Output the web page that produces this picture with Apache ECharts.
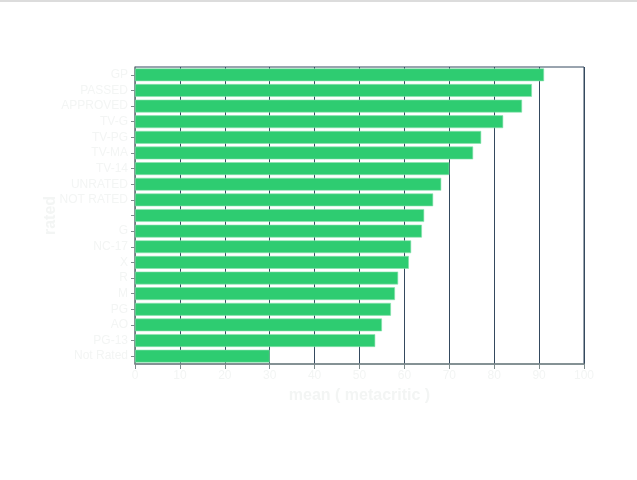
<!DOCTYPE html>
<html>
<head>
<meta charset="utf-8">
<script src="https://cdn.jsdelivr.net/npm/echarts@6/dist/echarts.min.js"></script>
<style>
html,body{margin:0;padding:0;background:#fff;}
body{border-top:2px solid #dcdcdc;}
#chart{width:637px;height:478px;}
</style>
</head>
<body>
<div id="chart"></div>
<script>
// ratings, top to bottom
var rated = ['GP','PASSED','APPROVED','TV-G','TV-PG','TV-MA','TV-14','UNRATED','NOT RATED','',
             'G','NC-17','X','R','M','PG','AO','PG-13','Not Rated'];
// mean metacritic per rating
var meanMetacritic = [91.1,88.4,86.2,82.0,77.1,75.3,70.0,68.2,66.4,64.4,
                      63.9,61.5,61.0,58.6,57.9,57.0,55.0,53.5,30.0];
var xTicks = [0,10,20,30,40,50,60,70,80,90,100];

var txt = '#f3f5f4';
var myChart = echarts.init(document.getElementById('chart'));
var option = {
	animation:false,
	grid:{left:135,right:53,top:65,bottom:116,show:true,borderColor:'#34495e',borderWidth:1,backgroundColor:'transparent'},
	xAxis:{
		type:'value',min:xTicks[0],max:xTicks[xTicks.length-1],interval:10,
		name:'mean ( metacritic )',nameLocation:'middle',nameGap:24,nameMoveOverlap:false,
		nameTextStyle:{color:txt,fontSize:16,fontWeight:'bold',fontFamily:'Liberation Sans'},
		axisLine:{show:true,lineStyle:{color:'#7f8c8d',width:1.5}},
		axisTick:{show:true,length:5,lineStyle:{color:'#7f8c8d'}},
		axisLabel:{color:txt,fontSize:12,fontFamily:'Liberation Sans',margin:6},
		splitLine:{show:true,lineStyle:{color:'#34495e',width:1}}
	},
	yAxis:{
		type:'category',data:rated,inverse:true,
		name:'rated',nameLocation:'middle',nameGap:76,nameMoveOverlap:false,
		nameTextStyle:{color:txt,fontSize:16,fontWeight:'bold',fontFamily:'Liberation Sans'},
		axisLine:{show:true,lineStyle:{color:'#7f8c8d',width:1.5}},
		axisTick:{show:true,alignWithLabel:true,length:4,lineStyle:{color:'#7f8c8d'}},
		axisLabel:{color:txt,fontSize:12,fontFamily:'Liberation Sans',margin:7},
		splitLine:{show:false}
	},
	series:[{
		type:'bar',data:meanMetacritic,barCategoryGap:'18%',
		itemStyle:{color:'#2ecc71',borderColor:'#8be3b0',borderWidth:0.6}
	}]
};
myChart.setOption(option);
</script>
</body>
</html>
